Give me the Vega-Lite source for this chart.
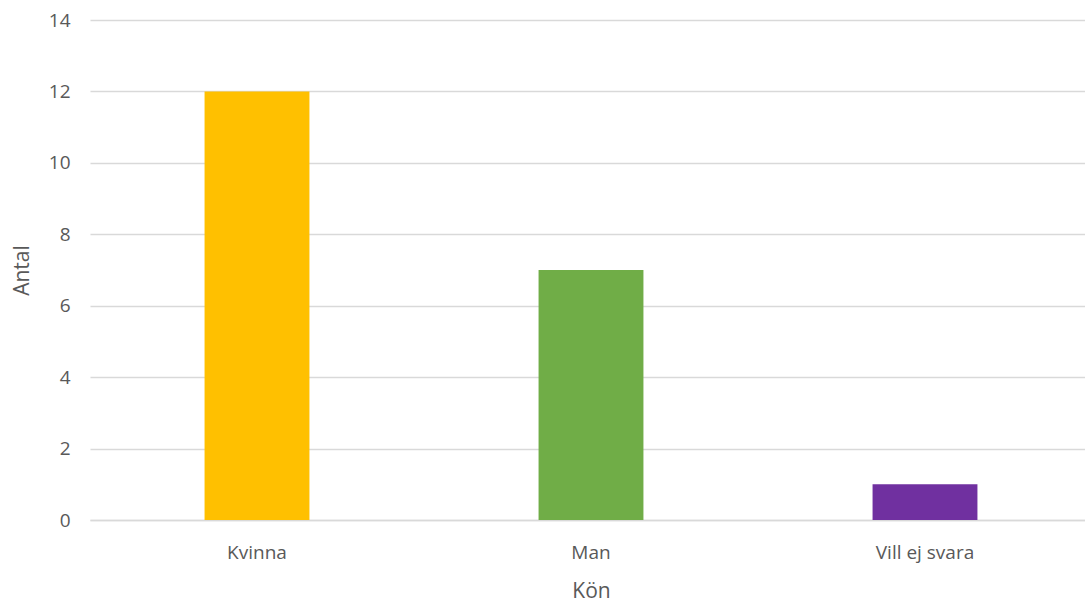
{
  "$schema": "https://vega.github.io/schema/vega-lite/v6.json",
  "width": 1002,
  "height": 500,
  "autosize": {"type": "none"},
  "padding": {"left": 90, "top": 20, "right": 0, "bottom": 83},
  "background": "white",
  "config": {
    "font": "Open Sans",
    "view": {"stroke": null},
    "axis": {"labelFont": "Open Sans", "titleFont": "Open Sans", "labelColor": "#595959", "titleColor": "#595959", "titleFontWeight": "normal"}
  },
  "data": {
    "values": [
      {"kon": "Kvinna", "antal": 12},
      {"kon": "Man", "antal": 7},
      {"kon": "Vill ej svara", "antal": 1}
    ]
  },
  "mark": {"type": "bar"},
  "encoding": {
    "x": {
      "field": "kon",
      "type": "nominal",
      "title": "Kön",
      "sort": null,
      "scale": {"paddingInner": 0.686, "paddingOuter": 0.343},
      "axis": {
        "labelAngle": 0,
        "labelFontSize": 19,
        "labelPadding": 23,
        "ticks": false,
        "domain": true,
        "domainColor": "#d9d9d9",
        "domainWidth": 1.5,
        "titleFontSize": 21,
        "titlePadding": 18
      }
    },
    "y": {
      "field": "antal",
      "type": "quantitative",
      "title": "Antal",
      "scale": {"domain": [0, 14]},
      "axis": {
        "values": [0, 2, 4, 6, 8, 10, 12, 14],
        "labelFontSize": 19,
        "labelPadding": 20,
        "ticks": false,
        "domain": false,
        "gridColor": "#d9d9d9",
        "gridWidth": 1.5,
        "titleFontSize": 21,
        "titlePadding": 16
      }
    },
    "color": {
      "field": "kon",
      "type": "nominal",
      "legend": null,
      "scale": {"domain": ["Kvinna", "Man", "Vill ej svara"], "range": ["#FFC000", "#70AD47", "#7030A0"]}
    }
  }
}
